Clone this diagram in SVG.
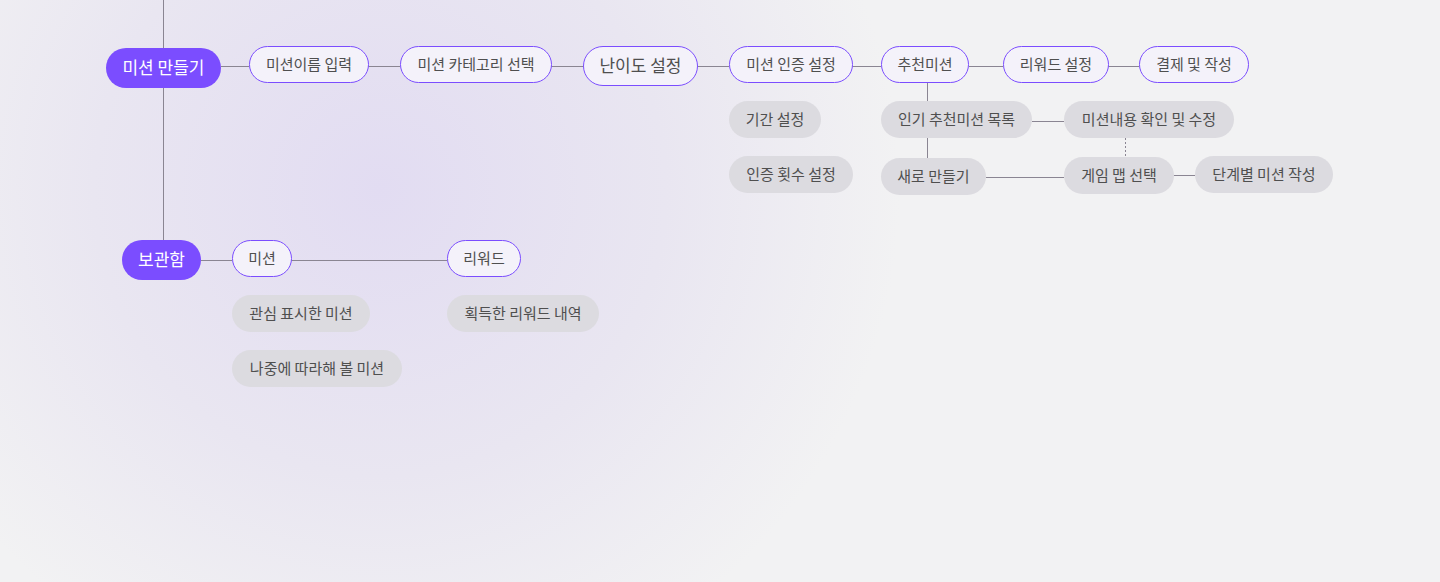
<svg xmlns="http://www.w3.org/2000/svg" width="1440" height="582" viewBox="0 0 1440 582">
<defs>
<radialGradient id="bg" cx="380" cy="190" r="520" gradientUnits="userSpaceOnUse">
<stop offset="0" stop-color="#e2dcf2"/>
<stop offset="0.55" stop-color="#e9e6f1"/>
<stop offset="1" stop-color="#f2f2f3"/>
</radialGradient>
<style>
text{font-family:"Noto Sans CJK KR","Noto Sans",sans-serif;dominant-baseline:central;text-anchor:middle}
.main rect{fill:#7b4dff}
.main text{fill:#ffffff;font-size:17px}
.out rect{fill:#f4f2fa;stroke:#7b4dff;stroke-width:1}
.out text{fill:#4f4f4f;font-size:15px}
.big text{font-size:17px}
.sub rect{fill:#dcdbe0}
.sub text{fill:#4f4f4f;font-size:15px}
.conn line{stroke:#8a8592;stroke-width:1}
.conn .dot{stroke-dasharray:2 2}
</style>
</defs>
<rect width="1440" height="582" fill="#f2f2f3"/>
<rect width="1440" height="582" fill="url(#bg)"/>
<g id="connectors" class="conn">
<line x1="163.5" y1="0" x2="163.5" y2="240"/>
<line x1="221" y1="66.5" x2="249" y2="66.5"/>
<line x1="368" y1="66.5" x2="400" y2="66.5"/>
<line x1="551" y1="66.5" x2="583" y2="66.5"/>
<line x1="698" y1="66.5" x2="729" y2="66.5"/>
<line x1="852" y1="66.5" x2="881" y2="66.5"/>
<line x1="969" y1="66.5" x2="1003" y2="66.5"/>
<line x1="1108" y1="66.5" x2="1139" y2="66.5"/>
<line x1="927.5" y1="82" x2="927.5" y2="101"/>
<line x1="927.5" y1="137" x2="927.5" y2="158"/>
<line x1="1032" y1="121.5" x2="1064" y2="121.5"/>
<line x1="986" y1="177.5" x2="1064" y2="177.5"/>
<line x1="1173" y1="175.5" x2="1195" y2="175.5"/>
<line class="dot" x1="1125.5" y1="138" x2="1125.5" y2="157"/>
<line x1="201" y1="260.5" x2="232" y2="260.5"/>
<line x1="291" y1="260.5" x2="447" y2="260.5"/>
</g>
<g id="n-make" class="main"><rect x="106" y="48" width="115" height="40" rx="20"/><text x="163.5" y="66.5">미션 만들기</text></g>
<g id="n-name" class="out"><rect x="249.5" y="46.5" width="119" height="36" rx="18"/><text x="309" y="63.5">미션이름 입력</text></g>
<g id="n-cat" class="out"><rect x="400.5" y="46.5" width="151" height="36" rx="18"/><text x="476" y="63.5">미션 카테고리 선택</text></g>
<g id="n-diff" class="out big"><rect x="583.5" y="46.5" width="114" height="39" rx="19.5"/><text x="640.5" y="64">난이도 설정</text></g>
<g id="n-auth" class="out"><rect x="729.5" y="46.5" width="123" height="36" rx="18"/><text x="791" y="63.5">미션 인증 설정</text></g>
<g id="n-rec" class="out"><rect x="881.5" y="46.5" width="87" height="36" rx="18"/><text x="925" y="63.5">추천미션</text></g>
<g id="n-reward" class="out"><rect x="1003.5" y="46.5" width="105" height="36" rx="18"/><text x="1056" y="63.5">리워드 설정</text></g>
<g id="n-pay" class="out"><rect x="1139.5" y="46.5" width="109" height="36" rx="18"/><text x="1194" y="63.5">결제 및 작성</text></g>
<g id="n-period" class="sub"><rect x="729" y="101" width="92" height="37" rx="18.5"/><text x="775" y="118">기간 설정</text></g>
<g id="n-count" class="sub"><rect x="729" y="156" width="124" height="37" rx="18.5"/><text x="791" y="173">인증 횟수 설정</text></g>
<g id="n-popular" class="sub"><rect x="881" y="101" width="151" height="37" rx="18.5"/><text x="956.5" y="118">인기 추천미션 목록</text></g>
<g id="n-new" class="sub"><rect x="881" y="158" width="105" height="37" rx="18.5"/><text x="933.5" y="175">새로 만들기</text></g>
<g id="n-check" class="sub"><rect x="1064" y="101" width="170" height="37" rx="18.5"/><text x="1149" y="118">미션내용 확인 및 수정</text></g>
<g id="n-map" class="sub"><rect x="1064" y="157" width="110" height="37" rx="18.5"/><text x="1119" y="174">게임 맵 선택</text></g>
<g id="n-step" class="sub"><rect x="1195" y="156" width="138" height="37" rx="18.5"/><text x="1264" y="173">단계별 미션 작성</text></g>
<g id="n-box" class="main"><rect x="122" y="240" width="79" height="40" rx="20"/><text x="161.5" y="258.5">보관함</text></g>
<g id="n-mission" class="out"><rect x="232.5" y="240.5" width="59" height="36" rx="18"/><text x="262" y="257.5">미션</text></g>
<g id="n-rw" class="out"><rect x="447.5" y="240.5" width="73" height="36" rx="18"/><text x="484" y="257.5">리워드</text></g>
<g id="n-fav" class="sub"><rect x="232" y="295" width="138" height="37" rx="18.5"/><text x="301" y="312">관심 표시한 미션</text></g>
<g id="n-later" class="sub"><rect x="232" y="350" width="170" height="37" rx="18.5"/><text x="317" y="367">나중에 따라해 볼 미션</text></g>
<g id="n-earned" class="sub"><rect x="447" y="295" width="152" height="37" rx="18.5"/><text x="523" y="312">획득한 리워드 내역</text></g>
</svg>
